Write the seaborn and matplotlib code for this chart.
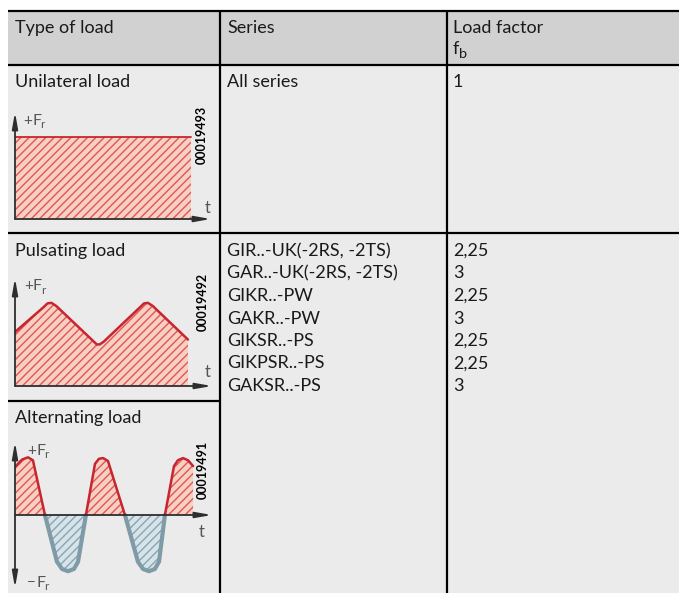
import numpy as np
import pandas as pd
import matplotlib
matplotlib.use("Agg")
import matplotlib.pyplot as plt
import seaborn as sns
from matplotlib.patches import Rectangle

# ---------------- data ----------------
header = ["Type of load", "Series", "Load factor"]
header_sub = "b"
load_types = ["Unilateral load", "Pulsating load", "Alternating load"]
series_unilateral = ["All series"]
factor_unilateral = ["1"]
series_pulsating = ["GIR..-UK(-2RS, -2TS)", "GAR..-UK(-2RS, -2TS)", "GIKR..-PW",
                    "GAKR..-PW", "GIKSR..-PS", "GIKPSR..-PS", "GAKSR..-PS"]
factor_pulsating = ["2,25", "3", "2,25", "3", "2,25", "2,25", "3"]
figure_codes = ["00019493", "00019492", "00019491"]

uni_t = [0.0, 9.0]
uni_F = [0.77, 0.77]

puls_t = [0.0, 1.45, 1.65, 1.85, 2.10, 3.95, 4.15, 4.30, 4.50, 6.35, 6.55, 6.75, 7.00, 8.78]
puls_F = [0.50, 0.73, 0.765, 0.77, 0.74, 0.42, 0.385, 0.385, 0.41, 0.73, 0.765, 0.77, 0.74, 0.43]

alt_t = [0.00, 0.36, 0.66, 0.91, 1.52, 2.13, 2.39, 2.69, 2.99, 3.20, 3.60, 4.06, 4.26, 4.47,
         4.72, 5.58, 6.24, 6.50, 6.80, 7.10, 7.31, 7.61, 8.07, 8.27, 8.53, 8.78, 9.04]
alt_F = [0.66, 0.76, 0.79, 0.75, 0.0, -0.64, -0.74, -0.77, -0.74, -0.64, 0.0, 0.70, 0.77, 0.78,
         0.74, 0.0, -0.64, -0.74, -0.77, -0.74, -0.64, 0.0, 0.67, 0.75, 0.78, 0.75, 0.67]

# ---------------- style ----------------
sns.set_theme(style="white")
plt.rcParams["font.family"] = ["Lato", "DejaVu Sans"]
plt.rcParams["hatch.linewidth"] = 1.0

W, H = 679, 593
fig = plt.figure(figsize=(W / 100, H / 100), dpi=100)
ax = fig.add_axes([0, 0, 1, 1])
ax.set_xlim(0, W)
ax.set_ylim(H, 0)
ax.axis("off")

TXT = "#1a1a1a"
GRAY = "#555555"
FS = 13
LINE = 22.5

# backgrounds
ax.add_patch(Rectangle((8, 11), W - 8, 54, facecolor="#d1d1d1", edgecolor="none"))
ax.add_patch(Rectangle((8, 65), W - 8, H - 65, facecolor="#ebebeb", edgecolor="none"))

# grid lines
LW = 1.6
ax.plot([8, W], [11, 11], color="black", lw=LW, solid_capstyle="butt")
ax.plot([8, W], [65, 65], color="black", lw=LW, solid_capstyle="butt")
ax.plot([8, W], [233, 233], color="black", lw=LW, solid_capstyle="butt")
ax.plot([8, 220], [400.5, 400.5], color="black", lw=LW, solid_capstyle="butt")
ax.plot([220, 220], [11, H], color="black", lw=LW, solid_capstyle="butt")
ax.plot([446.5, 446.5], [11, H], color="black", lw=LW, solid_capstyle="butt")

# header
col_x = [15, 227, 453]
for x, s in zip(col_x, header):
    ax.text(x, 33, s, fontsize=FS, color=TXT, va="baseline", ha="left")
ax.text(453, 54, "f", fontsize=FS, color=TXT, va="baseline", ha="left")
ax.text(459.5, 58, header_sub, fontsize=FS * 0.8, color=TXT, va="baseline", ha="left")

# row texts
row_base = [87, 256, 422.5]
for y, s in zip(row_base, load_types):
    ax.text(15, y, s, fontsize=FS, color=TXT, va="baseline", ha="left")
for i, (s, f) in enumerate(zip(series_unilateral, factor_unilateral)):
    ax.text(227, 87 + i * LINE, s, fontsize=FS, color=TXT, va="baseline")
    ax.text(453, 87 + i * LINE, f, fontsize=FS, color=TXT, va="baseline")
for i, (s, f) in enumerate(zip(series_pulsating, factor_pulsating)):
    ax.text(227, 256 + i * LINE, s, fontsize=FS, color=TXT, va="baseline")
    ax.text(453, 256 + i * LINE, f, fontsize=FS, color=TXT, va="baseline")

# figure codes
for (x, y), code in zip([(202, 135), (203, 302), (203, 470)], figure_codes):
    ax.text(x, y, code, fontsize=9, fontweight="bold", rotation=90, color="black",
            ha="center", va="center")

# axis labels in insets
def flabel(x, y, sign="+"):
    ax.text(x, y, sign, fontsize=11, color=GRAY, va="baseline", ha="left")
    ax.text(x + 9, y, "F", fontsize=11.5, color=GRAY, va="baseline", ha="left")
    ax.text(x + 17.5, y + 3.5, "r", fontsize=8.5, color=GRAY, va="baseline", ha="left")

flabel(23, 125)
flabel(24, 290)
flabel(27, 455)
flabel(27, 587, "\u2212")
for x, y in [(205, 213), (205, 377), (199, 537)]:
    ax.text(x, y, "t", fontsize=12, color=GRAY, va="baseline", ha="left")

RED = "#c8262f"
RED_FILL = "#f6d0c1"
RED_HATCH = "#e2545c"
BLUE = "#7f9ba7"
BLUE_FILL = "#d6e4ea"
BLUE_HATCH = "#8aa4b0"
AX_C = "#2e2e2e"


def inset(x0, x1, ytop, ybot, ylim):
    a = fig.add_axes([x0 / W, 1 - ybot / H, (x1 - x0) / W, (ybot - ytop) / H])
    a.set_xlim(0, 10)
    a.set_ylim(*ylim)
    a.axis("off")
    a.patch.set_alpha(0)
    return a


def hatched(a, t, f, fc, hc, where=None):
    with plt.rc_context({"hatch.color": hc}):
        a.fill_between(t, f, 0, where=where, interpolate=True, facecolor=fc,
                       edgecolor=hc, hatch="////", linewidth=0)


HEAD = "head_length=0.8,head_width=0.14"


def arrows(a, both=False, yzero=0.0):
    a.annotate("", xy=(1, yzero), xytext=(0, yzero), xycoords="axes fraction",
               arrowprops=dict(arrowstyle="-|>," + HEAD,
                               color=AX_C, lw=1.3, shrinkA=0, shrinkB=0))
    style = ("<|-|>," if both else "-|>,") + HEAD
    a.annotate("", xy=(0, 1), xytext=(0, 0), xycoords="axes fraction",
               arrowprops=dict(arrowstyle=style, color=AX_C, lw=1.3, shrinkA=0, shrinkB=0))


# unilateral
a1 = inset(15, 211, 112, 219, (0, 1))
hatched(a1, uni_t, uni_F, RED_FILL, RED_HATCH)
sns.lineplot(x=uni_t, y=uni_F, ax=a1, color=RED, lw=1.3, sort=False)
arrows(a1)

# pulsating
a2 = inset(15, 212, 278, 386, (0, 1))
hatched(a2, puls_t, puls_F, RED_FILL, RED_HATCH)
sns.lineplot(x=puls_t, y=puls_F, ax=a2, color=RED, lw=1.8, sort=False)
arrows(a2)

# alternating
a3 = inset(15, 212, 442, 588, (-1, 1))
t_arr = np.array(alt_t)
f_arr = np.array(alt_F)
hatched(a3, t_arr, f_arr, RED_FILL, RED_HATCH, where=f_arr >= 0)
hatched(a3, t_arr, f_arr, BLUE_FILL, BLUE_HATCH, where=f_arr <= 0)
# split the curve into arcs at zero crossings
rows = []
seg = 0
for i, (tt, ff) in enumerate(zip(alt_t, alt_F)):
    if ff == 0 and i > 0:
        rows.append((tt, ff, seg))
        seg += 1
    rows.append((tt, ff, seg))
df = pd.DataFrame(rows, columns=["t", "F", "seg"])
df["sign"] = df.groupby("seg")["F"].transform(lambda s: "neg" if s.min() < 0 else "pos")
sns.lineplot(data=df[df["sign"] == "neg"], x="t", y="F", units="seg", estimator=None,
             ax=a3, color=BLUE, lw=3.0, sort=False)
sns.lineplot(data=df[df["sign"] == "pos"], x="t", y="F", units="seg", estimator=None,
             ax=a3, color=RED, lw=1.8, sort=False)
arrows(a3, both=True, yzero=0.5)

fig.savefig("out.png", dpi=100)
